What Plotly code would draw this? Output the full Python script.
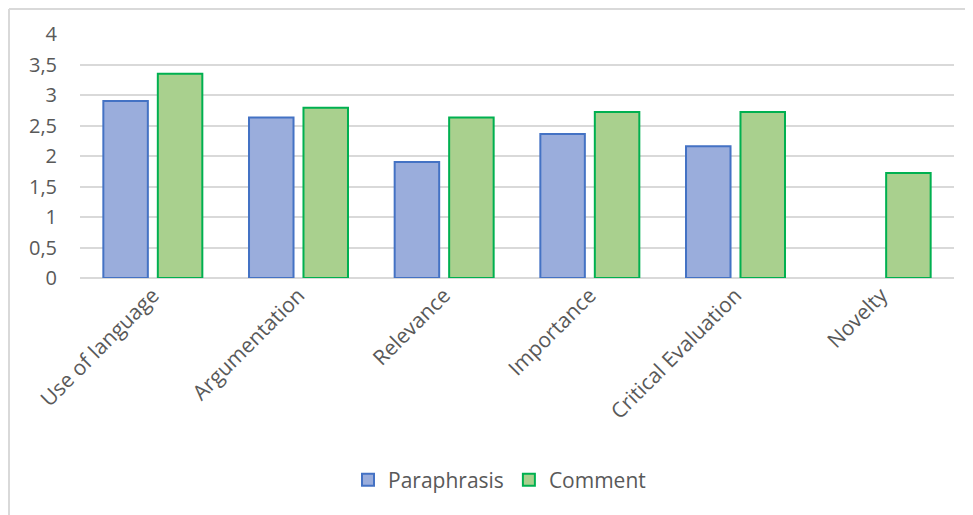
import plotly.graph_objects as go

categories = ["Use of language", "Argumentation", "Relevance", "Importance", "Critical Evaluation", "Novelty"]
paraphrasis = [2.9, 2.63, 1.9, 2.36, 2.16, None]
comment = [3.35, 2.79, 2.63, 2.72, 2.72, 1.72]
y_ticks = [0, 0.5, 1, 1.5, 2, 2.5, 3, 3.5, 4]

# page body has an 8px margin, so the figure is drawn 8px in from the window edge
OFF = 8
W, H = 973 - OFF, 515 - OFF
L, T = 80 - OFF, 34 - OFF
pw, ph = 874, 244
R, B = W - L - pw, H - T - ph

fig = go.Figure()
fig.add_trace(go.Bar(name="Paraphrasis", x=categories, y=paraphrasis,
                     marker=dict(color="#9aaddc", line=dict(color="#4472c4", width=2))))
fig.add_trace(go.Bar(name="Comment", x=categories, y=comment,
                     marker=dict(color="#a9d08e", line=dict(color="#00b050", width=2))))

font_family = "'Open Sans', Lato, sans-serif"
fig.update_layout(
    width=W, height=H,
    margin=dict(l=L, r=R, t=T, b=B, autoexpand=False),
    paper_bgcolor="white", plot_bgcolor="white",
    barmode="group", bargap=0.252, bargroupgap=0.183,
    separators=",.",
    font=dict(family=font_family, color="#595959", size=18),
    showlegend=True,
    legend=dict(orientation="h", x=0.48, xanchor="center", y=-(480 - 278) / ph, yanchor="middle",
                font=dict(size=21, color="#595959"), itemwidth=30, traceorder="normal"),
    xaxis=dict(tickangle=-45, tickfont=dict(size=21, color="#595959"), showgrid=False,
               showline=False, ticks=""),
    yaxis=dict(range=[0, 4], tickvals=y_ticks, tickfont=dict(size=20, color="#595959"),
               showgrid=True, gridcolor="#d9d9d9", gridwidth=1.5, zeroline=True,
               zerolinecolor="#d9d9d9", zerolinewidth=1.5, showline=False, ticks="",
               ticklabelstandoff=22),
)

# chart frame (left and top edges visible)
x_left = (1 - L) / pw
y_top = 1 + (T - 1) / ph
y_bot = -(H - (T + ph)) / ph
x_right = (W - L) / pw
fig.add_shape(type="line", xref="paper", yref="paper", x0=x_left, x1=x_left, y0=y_bot, y1=y_top,
              line=dict(color="#d9d9d9", width=2))
fig.add_shape(type="line", xref="paper", yref="paper", x0=x_left, x1=x_right, y0=y_top, y1=y_top,
              line=dict(color="#d9d9d9", width=2))

fig.write_html("out.html")
